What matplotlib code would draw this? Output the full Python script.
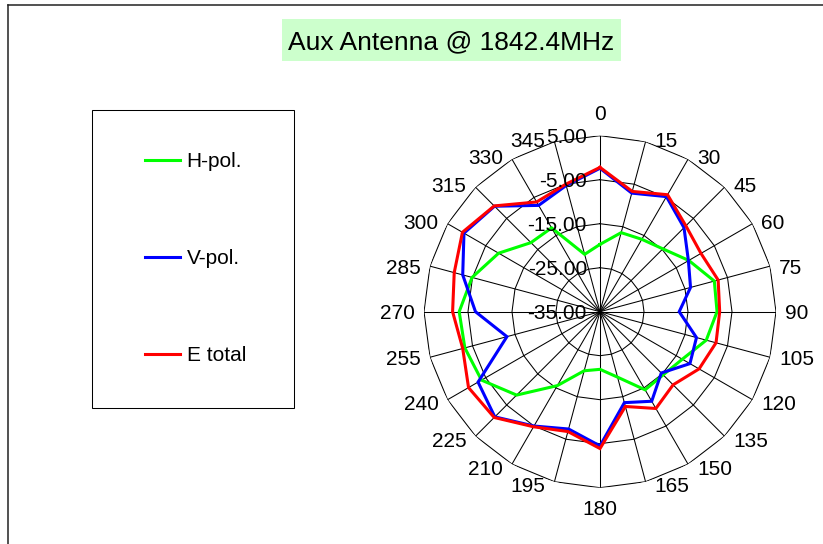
import numpy as np
import matplotlib
matplotlib.use('Agg')
import matplotlib.pyplot as plt
from matplotlib.lines import Line2D
from matplotlib.patches import Rectangle

plt.rcParams['font.family'] = ['Liberation Sans', 'DejaVu Sans']

# ---------------- data ----------------
angles_deg = list(range(0, 360, 15))
h_pol = [-19.7, -16.4, -16.0, -14.8, -11.7, -8.1, -8.4, -10.0, -13.4, -14.7, -14.5, -19.6,
         -21.9, -21.1, -15.6, -8.2, -3.9, -3.2, -3.0, -4.9, -8.4, -12.8, -13.0, -21.5]
v_pol = [-2.4, -7.1, -4.8, -8.0, -11.8, -13.7, -17.0, -12.3, -11.4, -15.3, -11.5, -13.6,
         -4.5, -7.4, -5.0, -1.2, -3.0, -13.1, -6.7, -2.7, 0.7, -1.1, -7.1, -5.3]
e_total = [-2.2, -6.7, -4.3, -7.4, -8.5, -7.2, -7.8, -7.7, -9.0, -11.5, -9.6, -12.7,
           -3.9, -6.8, -4.8, -1.0, -0.5, -2.7, -1.5, -0.7, 1.1, -1.0, -6.2, -5.0]
series_names = ['H-pol.', 'V-pol.', 'E total']
series_colors = ['#00FF00', '#0000FF', '#FF0000']
r_ticks = [5, -5, -15, -25, -35]
r_tick_labels = ['5.00', '-5.00', '-15.00', '-25.00', '-35.00']
title = 'Aux Antenna @ 1842.4MHz'
rmin, rmax = -35, 5

# ---------------- figure ----------------
W, H = 823, 544
fig = plt.figure(figsize=(W / 100, H / 100), dpi=100)
fig.patch.set_facecolor('white')
FS = 15

cx, cy, R = 600, 311.7, 176
ax = fig.add_axes([(cx - R) / W, (H - cy - R) / H, 2 * R / W, 2 * R / H], projection='polar')
ax.set_theta_zero_location('N')
ax.set_theta_direction(-1)
ax.set_ylim(rmin, rmax)
ax.grid(False)
ax.spines['polar'].set_visible(False)
ax.set_xticks([])
ax.set_yticks([])
ax.patch.set_visible(False)

theta = np.deg2rad(angles_deg)
theta_closed = np.append(theta, theta[0])

# polygonal grid (radar style)
for rv in r_ticks:
    if rv == rmin:
        continue
    ax.plot(theta_closed, [rv] * len(theta_closed), color='black', lw=0.75, zorder=1)
for t in theta:
    ax.plot([t, t], [rmin, rmax], color='black', lw=0.75, zorder=1)

# series
handles = []
for vals, c, name in zip([h_pol, v_pol, e_total], series_colors, series_names):
    v = np.append(vals, vals[0])
    ln, = ax.plot(theta_closed, v, color=c, lw=2.2, label=name, zorder=3,
                  solid_joinstyle='miter')
    handles.append(ln)

# angle labels (placed beside the spoke tips, radar-chart style)
for a, t in zip(angles_deg, theta):
    s, c = np.sin(t), np.cos(t)
    if a == 0:
        off, ha = (0, 23), 'center'
    elif a == 180:
        off, ha = (0, -20), 'center'
    else:
        dy = 0 if abs(c) < 0.3 else (2.5 if c > 0 else -3)
        off = (9 if s > 0 else -9, dy)
        ha = 'left' if s > 0 else 'right'
    ax.annotate(str(a), xy=(t, rmax), xytext=off, textcoords='offset pixels',
                ha=ha, va='center_baseline', fontsize=FS, annotation_clip=False)

# radial labels
for rv, lbl in zip(r_ticks, r_tick_labels):
    ax.annotate(lbl, xy=(0, rv), xytext=(-13, 0), textcoords='offset pixels',
                ha='right', va='center_baseline', fontsize=FS, zorder=4)

# title with light green box
fig.add_artist(Rectangle((282 / W, 1 - 61 / H), (621 - 282) / W, 42 / H,
                         transform=fig.transFigure, facecolor='#CCFFCC',
                         edgecolor='none', zorder=0))
fig.text(451.5 / W, 1 - 40 / H, title, ha='center', va='center_baseline', fontsize=19)

# legend (frame drawn as a plain rectangle)
fig.add_artist(Rectangle((92 / W, 1 - 408 / H), (294 - 92) / W, (408 - 110) / H,
                         transform=fig.transFigure, facecolor='none',
                         edgecolor='black', lw=0.75))
leg = fig.legend(handles, series_names, loc='center left',
                 bbox_to_anchor=(145 / W, 1 - 258.5 / H), frameon=False,
                 fontsize=FS, borderpad=0, labelspacing=3.75,
                 handlelength=1.7, handletextpad=0.3, borderaxespad=0)

# outer chart border (left and top)
fig.add_artist(Line2D([8 / W, 8 / W], [0, 1 - 4.5 / H], color='#222222', lw=1.1))
fig.add_artist(Line2D([8 / W, 1], [1 - 4.5 / H, 1 - 4.5 / H], color='#222222', lw=1.1))

fig.savefig('out.png', dpi=100)
